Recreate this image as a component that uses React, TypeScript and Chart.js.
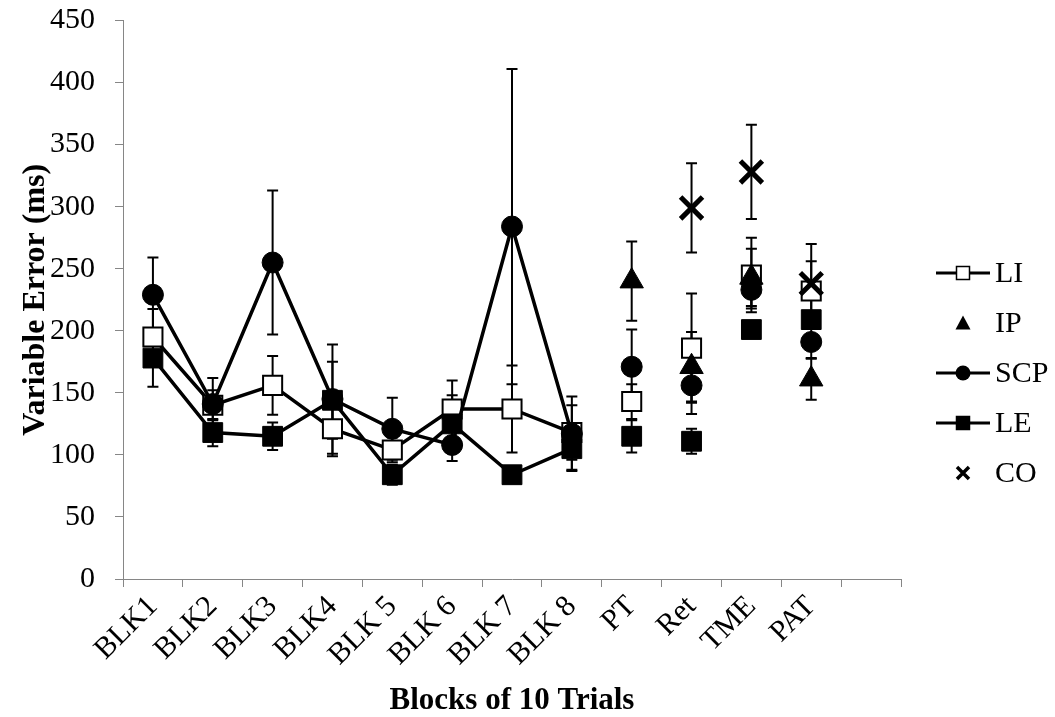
import React, { useEffect, useRef } from 'react';
import { Chart, registerables } from 'chart.js';

Chart.register(...registerables);

const categories = ['BLK1', 'BLK2', 'BLK3', 'BLK4', 'BLK 5', 'BLK 6', 'BLK 7', 'BLK 8', 'PT', 'Ret', 'TME', 'PAT', ''];

const liValues = [195, 140, 156, 121, 104, 137, 137, 118, 143, 186, 245, 232];
const liErrors = [22.6, 12, 23.7, 22, 10, 23, 35, 22, 14, 44, 30, 24];

const ipValues = [null, null, null, null, null, null, null, null, 240, 171, 243, 161];
const ipErrors = [null, null, null, null, null, null, null, null, 32, 28, 23, 16.5];

const scpValues = [229, 141, 255, 145, 121, 108, 284, 117, 171, 156, 233, 191];
const scpErrors = [30, 21, 58, 44, 25, 13, 127, 30, 30, 23, 15, 13];

const leValues = [178, 118, 115, 144, 84, 125, 84, 105, 115, 111, 201, 209];
const leErrors = [23, 11, 11, 31, 8, 23, 5, 17, 13, 10, 5, 6];

const coValues = [null, null, null, null, null, null, null, null, null, 299, 328, 238];
const coErrors = [null, null, null, null, null, null, null, null, null, 36, 38, 32];

const yTicks = { min: 0, max: 450, step: 50 };

const errorsByLabel: Record<string, (number | null)[]> = {
  LI: liErrors,
  IP: ipErrors,
  SCP: scpErrors,
  LE: leErrors,
  CO: coErrors,
};

const FONT = "'Liberation Serif', 'Times New Roman', serif";
const AXIS_GRAY = '#868686';
const BLOCK_COUNT = 8;

const errorBarPlugin = {
  id: 'errorBars',
  beforeDatasetsDraw(chart: any) {
    const ctx = chart.ctx;
    const yScale = chart.scales.y;
    ctx.save();
    ctx.strokeStyle = '#000';
    ctx.lineWidth = 2;
    chart.data.datasets.forEach((ds: any, i: number) => {
      const errs = errorsByLabel[ds.label];
      if (!errs) return;
      const meta = chart.getDatasetMeta(i);
      meta.data.forEach((pt: any, j: number) => {
        const v = ds.data[j];
        const e = errs[j];
        if (v == null || e == null) return;
        const x = pt.x;
        const yTop = yScale.getPixelForValue(v + e);
        const yBot = yScale.getPixelForValue(v - e);
        const cap = 5.5;
        ctx.beginPath();
        ctx.moveTo(x, yTop);
        ctx.lineTo(x, yBot);
        ctx.moveTo(x - cap, yTop);
        ctx.lineTo(x + cap, yTop);
        ctx.moveTo(x - cap, yBot);
        ctx.lineTo(x + cap, yBot);
        ctx.stroke();
      });
    });
    ctx.restore();
  },
};

const legendPlugin = {
  id: 'customLegend',
  afterDraw(chart: any) {
    const ctx = chart.ctx;
    const area = chart.chartArea;
    const markerX = area.right + 62;
    const lineL = area.right + 35;
    const lineR = area.right + 89;
    const textX = area.right + 94;
    const startY = 273;
    const gap = 50;
    ctx.save();
    chart.data.datasets.forEach((ds: any, i: number) => {
      const y = startY + i * gap;
      ctx.strokeStyle = '#000';
      ctx.fillStyle = '#000';
      if (ds.showLine !== false) {
        ctx.lineWidth = 3;
        ctx.beginPath();
        ctx.moveTo(lineL, y);
        ctx.lineTo(lineR, y);
        ctx.stroke();
      }
      const fill = ds.pointBackgroundColor;
      ctx.fillStyle = fill;
      ctx.lineWidth = 1.5;
      ctx.beginPath();
      if (ds.pointStyle === 'rect') {
        const s = 6.5;
        ctx.rect(markerX - s, y - s, 2 * s, 2 * s);
        ctx.fill();
        ctx.stroke();
      } else if (ds.pointStyle === 'circle') {
        ctx.arc(markerX, y, 7.5, 0, Math.PI * 2);
        ctx.fill();
      } else if (ds.pointStyle === 'triangle') {
        ctx.moveTo(markerX, y - 7.5);
        ctx.lineTo(markerX + 7.5, y + 6.5);
        ctx.lineTo(markerX - 7.5, y + 6.5);
        ctx.closePath();
        ctx.fill();
      } else if (ds.pointStyle === 'crossRot') {
        const s = 6;
        ctx.lineWidth = 3.5;
        ctx.moveTo(markerX - s, y - s);
        ctx.lineTo(markerX + s, y + s);
        ctx.moveTo(markerX + s, y - s);
        ctx.lineTo(markerX - s, y + s);
        ctx.stroke();
      }
      ctx.fillStyle = '#000';
      ctx.font = `30px ${FONT}`;
      ctx.textAlign = 'left';
      ctx.textBaseline = 'middle';
      ctx.fillText(ds.label, textX, y + 1);
    });
    ctx.restore();
  },
};

const lineSegment = {
  borderColor: (ctx: any) => (ctx.p0DataIndex >= BLOCK_COUNT - 1 ? 'rgba(0,0,0,0)' : '#000'),
};

export default function App() {
  const canvasRef = useRef<HTMLCanvasElement | null>(null);

  useEffect(() => {
    if (!canvasRef.current) return;
    const chart = new Chart(canvasRef.current, {
      type: 'line',
      data: {
        labels: categories,
        datasets: [
          {
            label: 'LI',
            data: liValues,
            order: 5,
            borderColor: '#000',
            borderWidth: 3.5,
            segment: lineSegment,
            pointStyle: 'rect',
            pointRadius: 13.5,
            pointHoverRadius: 13.5,
            pointBackgroundColor: '#fff',
            pointBorderColor: '#000',
            pointBorderWidth: 2,
          },
          {
            label: 'IP',
            data: ipValues,
            order: 4,
            showLine: false,
            borderColor: '#000',
            pointStyle: 'triangle',
            pointRadius: 13.5,
            pointHoverRadius: 13.5,
            pointBackgroundColor: '#000',
            pointBorderColor: '#000',
            pointBorderWidth: 1,
          },
          {
            label: 'SCP',
            data: scpValues,
            order: 3,
            borderColor: '#000',
            borderWidth: 3.5,
            segment: lineSegment,
            pointStyle: 'circle',
            pointRadius: 10.5,
            pointHoverRadius: 10.5,
            pointBackgroundColor: '#000',
            pointBorderColor: '#000',
            pointBorderWidth: 1,
          },
          {
            label: 'LE',
            data: leValues,
            order: 2,
            borderColor: '#000',
            borderWidth: 3.5,
            segment: lineSegment,
            pointStyle: 'rect',
            pointRadius: 14,
            pointHoverRadius: 14,
            pointBackgroundColor: '#000',
            pointBorderColor: '#000',
            pointBorderWidth: 1,
          },
          {
            label: 'CO',
            data: coValues,
            order: 1,
            showLine: false,
            borderColor: '#000',
            pointStyle: 'crossRot',
            pointRadius: 15.5,
            pointHoverRadius: 15.5,
            pointBackgroundColor: '#000',
            pointBorderColor: '#000',
            pointBorderWidth: 5,
          },
        ],
      },
      options: {
        animation: false,
        responsive: true,
        maintainAspectRatio: false,
        layout: { padding: { left: 0, right: 154, top: 20, bottom: 0 } },
        plugins: {
          legend: { display: false },
          tooltip: { enabled: false },
        },
        scales: {
          x: {
            type: 'category',
            offset: true,
            grid: {
              display: true,
              offset: true,
              drawOnChartArea: false,
              drawTicks: true,
              tickLength: 8,
              color: AXIS_GRAY,
            },
            border: { display: true, color: AXIS_GRAY, width: 1 },
            ticks: {
              autoSkip: false,
              minRotation: 45,
              maxRotation: 45,
              padding: 2,
              color: '#000',
              font: { family: FONT, size: 30 },
            },
            title: {
              display: true,
              text: 'Blocks of 10 Trials',
              color: '#000',
              font: { family: FONT, size: 31, weight: 'bold' },
              padding: { top: 0, bottom: -3 },
            },
            afterFit: (scale: any) => {
              scale.height = 138;
            },
          },
          y: {
            min: yTicks.min,
            max: yTicks.max,
            grid: {
              display: true,
              drawOnChartArea: false,
              drawTicks: true,
              tickLength: 8,
              color: AXIS_GRAY,
            },
            border: { display: true, color: AXIS_GRAY, width: 1 },
            ticks: {
              stepSize: yTicks.step,
              padding: 20,
              color: '#000',
              font: { family: FONT, size: 30 },
            },
            title: {
              display: true,
              text: 'Variable Error (ms)',
              color: '#000',
              font: { family: FONT, size: 32, weight: 'bold' },
              padding: { top: 17, bottom: 0 },
            },
            afterFit: (scale: any) => {
              scale.width = 123;
              scale.paddingTop = 0;
              scale.paddingBottom = 0;
            },
          },
        },
      },
      plugins: [errorBarPlugin, legendPlugin],
    } as any);
    return () => chart.destroy();
  }, []);

  return (
    <div style={{ position: 'absolute', left: 0, top: 0, width: 1055, height: 717, background: '#fff' }}>
      <canvas ref={canvasRef} />
    </div>
  );
}
